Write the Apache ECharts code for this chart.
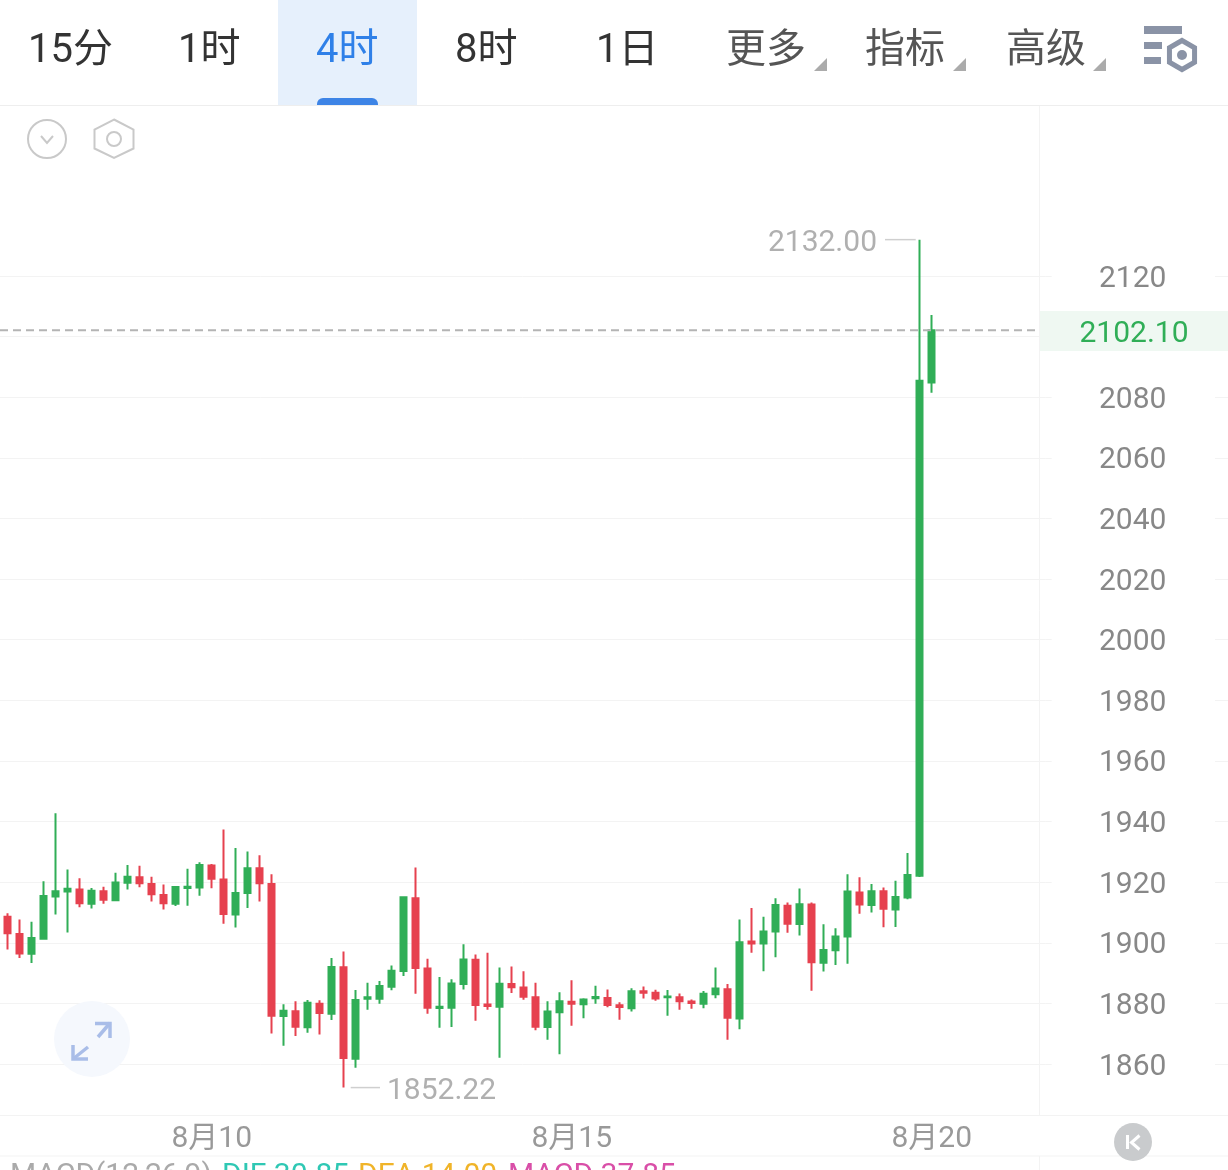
<!DOCTYPE html>
<html><head><meta charset="utf-8">
<style>html,body{margin:0;padding:0;background:#fff;overflow:hidden}#c{width:1228px;height:1170px}</style>
<script src="https://cdn.jsdelivr.net/npm/echarts@6/dist/echarts.min.js"></script>
</head><body><div id="c"></div>
<script>
const opens = [1908.6,1902.9,1896.4,1901.3,1915.3,1916.9,1917.6,1912.9,1917.0,1914.0,1919.8,1921.6,1919.4,1915.8,1912.9,1918.1,1918.2,1925.5,1920.9,1909.3,1916.4,1924.6,1919.4,1875.8,1877.4,1872.1,1879.9,1876.6,1891.9,1861.7,1881.5,1881.5,1885.5,1890.7,1914.7,1891.5,1878.5,1878.6,1886.4,1894.4,1879.6,1878.9,1886.4,1885.2,1882.0,1872.2,1877.1,1880.5,1879.7,1881.7,1881.8,1879.4,1878.4,1884.0,1883.5,1882.0,1882.0,1880.6,1879.9,1883.0,1884.7,1875.0,1900.4,1899.8,1903.7,1912.2,1906.2,1912.6,1893.4,1897.5,1902.1,1916.6,1912.5,1917.0,1911.0,1914.9,1922.1,2084.9];
const closes = [1903.1,1896.5,1901.6,1915.4,1917.0,1917.8,1913.0,1917.2,1914.2,1919.9,1921.8,1919.6,1916.0,1913.0,1918.4,1918.5,1925.7,1921.1,1909.5,1916.4,1924.6,1919.6,1875.9,1877.6,1872.3,1880.2,1876.8,1892.0,1862.0,1881.1,1882.0,1885.7,1890.8,1915.0,1891.7,1878.6,1878.9,1886.6,1894.5,1879.5,1879.1,1886.5,1885.3,1882.2,1872.3,1877.3,1880.7,1879.9,1881.3,1882.1,1879.5,1878.8,1884.0,1883.5,1881.6,1882.3,1880.7,1880.1,1883.2,1884.9,1875.3,1900.2,1899.8,1903.7,1912.5,1906.3,1912.7,1893.6,1897.6,1902.1,1916.9,1912.6,1917.0,1911.2,1915.1,1922.4,2085.4,2102.1];
const lows = [1897.8,1895.0,1893.3,1901.1,1909.3,1903.4,1911.7,1911.3,1912.9,1913.9,1917.6,1918.3,1913.6,1911.0,1912.1,1912.2,1915.5,1918.0,1906.3,1905.0,1911.5,1913.6,1870.1,1866.0,1869.2,1870.3,1869.7,1874.5,1852.22,1858.8,1877.9,1879.9,1884.3,1889.0,1883.2,1876.6,1872.0,1872.2,1884.6,1874.3,1877.9,1862.1,1883.4,1881.2,1871.1,1868.0,1863.2,1872.6,1875.1,1879.9,1878.7,1874.6,1877.3,1881.6,1880.9,1875.9,1877.9,1878.2,1878.4,1881.7,1868.0,1871.5,1896.7,1890.6,1895.2,1903.3,1902.4,1884.2,1890.5,1892.7,1893.1,1909.6,1910.0,1905.1,1905.2,1914.4,1921.7,2081.5];
const highs = [1909.7,1907.7,1906.9,1920.3,1942.7,1924.2,1921.3,1918.1,1918.5,1923.1,1925.7,1925.4,1921.8,1919.2,1918.7,1924.4,1926.6,1926.0,1937.4,1931.3,1930.1,1928.9,1922.6,1879.7,1880.7,1881.1,1881.0,1895.0,1897.1,1884.4,1886.8,1887.4,1892.5,1915.3,1924.8,1894.7,1888.7,1888.0,1899.5,1896.1,1896.7,1891.8,1892.2,1890.6,1886.8,1880.7,1883.7,1887.6,1881.7,1885.8,1884.6,1880.4,1885.0,1885.6,1884.5,1884.4,1883.3,1881.3,1884.1,1891.8,1886.4,1907.7,1911.5,1908.6,1914.7,1913.3,1917.9,1913.3,1906.1,1904.8,1922.6,1921.6,1919.4,1918.2,1920.5,1929.6,2132.0,2107.1];
const dateLabels = {18:'8月10',48:'8月15',78:'8月20'};
const priceTicks = [2120,2100,2080,2060,2040,2020,2000,1980,1960,1940,1920,1900,1880,1860];
const lastPrice = '2102.10', highLabel = '2132.00', lowLabel = '1852.22';
const tabs = ['15分','1时','4时','8时','1日','更多','指标','高级'];
const macdTexts = ['MACD(12,26,9)','DIF 30.85','DEA 14.00','MACD 37.85'];

const GREEN='#30ae57', RED='#e6414f', GRID='#f3f3f3';
const FONT='Roboto, "Noto Sans CJK SC", sans-serif';
const BANDS=88;
const categories=[]; for(let i=0;i<BANDS;i++) categories.push(dateLabels[i]||'');
const candles=[['-','-','-','-']].concat(opens.map((o,i)=>[o,closes[i],lows[i],highs[i]]));

const chart=echarts.init(document.getElementById('c'));
const yMin=priceTicks[priceTicks.length-1], yMax=priceTicks[0];
chart.setOption({
  animation:false, backgroundColor:'#ffffff',
  grid:[
    {left:-10.3,top:276,width:12*BANDS,height:788,outerBoundsMode:'none'},
    {left:1215,top:276,width:13,height:788,outerBoundsMode:'none'}
  ],
  xAxis:[
    {type:'category',gridIndex:0,data:categories,boundaryGap:true,
     axisLine:{show:false},axisTick:{show:false},splitLine:{show:false},
     axisLabel:{show:true,interval:0,margin:60,color:'#999999',fontSize:30,fontFamily:FONT,hideOverlap:false}},
    {type:'category',gridIndex:1,data:[''],axisLine:{show:false},axisTick:{show:false},axisLabel:{show:false}}
  ],
  yAxis:[
    {type:'value',gridIndex:0,position:'right',min:yMin,max:yMax,interval:20,scale:true,
     axisLine:{show:false},
     axisTick:{show:true,length:6,lineStyle:{color:GRID,width:1}},
     splitLine:{show:true,lineStyle:{color:GRID,width:1}},
     axisLabel:{show:true,margin:87,align:'center',verticalAlign:'top',lineHeight:6,color:'#888888',fontSize:30,fontFamily:FONT,
       formatter:v=>v===2100?'':String(v)}},
    {type:'value',gridIndex:1,min:yMin,max:yMax,interval:20,scale:true,
     axisLine:{show:false},axisTick:{show:false},axisLabel:{show:false},
     splitLine:{show:true,lineStyle:{color:GRID,width:1}}}
  ],
  series:[{
    type:'candlestick',xAxisIndex:0,yAxisIndex:0,data:candles,clip:false,barWidth:6,silent:true,
    itemStyle:{color:GREEN,color0:RED,borderColor:GREEN,borderColor0:RED,borderWidth:2}
  }]
});

const py=v=>chart.convertToPixel({yAxisIndex:0},v);
const px=i=>chart.convertToPixel({xAxisIndex:0},i);
const hexPts=(cx,cy,r)=>{const p=[];for(let i=0;i<6;i++){const a=Math.PI/3*i-Math.PI/2;p.push([cx+r*Math.cos(a),cy+r*Math.sin(a)]);}return p;};
const T=(text,x,y,size,color,align)=>({type:'text',x:x,y:y+3,z:20,silent:true,style:{text:text,fill:color,font:size+'px '+FONT,
  align:align||'left',verticalAlign:'middle',textAlign:align||'left',textVerticalAlign:'middle'}});
const L=(x1,y1,x2,y2,color,w,dash,z)=>({type:'line',z:z||15,silent:true,shape:{x1,y1,x2,y2},style:{stroke:color,lineWidth:w||1,lineDash:dash||null,fill:null}});
const R=(x,y,w,h,color,z)=>({type:'rect',z:z||10,silent:true,shape:{x,y,width:w,height:h},style:{fill:color}});
const PL=(pts,color,w,z)=>({type:'polyline',z:z||21,silent:true,shape:{points:pts},style:{stroke:color,lineWidth:w,fill:null,lineJoin:'miter'}});
const TRI=(x)=>({type:'polygon',z:20,silent:true,shape:{points:[[x+13,58],[x+13,71],[x,71]]},style:{fill:'#ababab'}});

const yLast=py(parseFloat(lastPrice)), yHigh=py(parseFloat(highLabel)), yLow=py(parseFloat(lowLabel));
const xHigh=px(77), xLow=px(29);
const els=[
  R(278,0,139,105,'#e6f0fc'),
  {type:'rect',z:11,silent:true,shape:{x:317,y:98,width:61,height:7,r:[6,6,0,0]},style:{fill:'#3d84e6'}},
  L(0,105.5,1228,105.5,'#eeeeee',1),
  L(1039.5,106,1039.5,1115,GRID,1),
  L(0,1115.5,1228,1115.5,GRID,1),
  L(0,1156,1228,1156,GRID,1),
  L(1039.5,1156,1039.5,1170,GRID,1),

  T(tabs[0],28,49,40,'#333333'),
  T(tabs[1],178,49,40,'#333333'),
  T(tabs[2],316,49,40,'#2f80e8'),
  T(tabs[3],455,49,40,'#333333'),
  T(tabs[4],596,49,40,'#333333'),
  T(tabs[5],726,49,40,'#555555'),
  T(tabs[6],865,49,40,'#555555'),
  T(tabs[7],1006,49,40,'#555555'),
  TRI(814),TRI(953),TRI(1093),

  R(1144,26,38,8,'#8a93a6',19),R(1144,42,18,7,'#8a93a6',19),R(1144,57,17,7,'#8a93a6',19),
  {type:'polygon',z:20,silent:true,shape:{points:hexPts(1182,55,14.5)},style:{stroke:'#8a93a6',lineWidth:5,fill:'#ffffff'}},
  {type:'circle',z:21,silent:true,shape:{cx:1182,cy:55,r:5},style:{fill:'#8a93a6'}},

  {type:'circle',z:20,silent:true,shape:{cx:47,cy:139,r:19},style:{stroke:'#c9c9c9',lineWidth:2,fill:'#fff'}},
  PL([[41,136],[47,143],[53,136]],'#c9c9c9',2),
  {type:'polygon',z:20,silent:true,shape:{points:[[114,119.5],[133.5,129.5],[133.5,148.5],[114,158],[94.5,148.5],[94.5,129.5]]},style:{stroke:'#c9c9c9',lineWidth:2,fill:'#fff'}},
  {type:'circle',z:21,silent:true,shape:{cx:114,cy:139,r:7},style:{stroke:'#c9c9c9',lineWidth:2,fill:'#fff'}},

  R(1040,311,188,40,'#eff8f2'),
  T(lastPrice,1134,331,30,GREEN,'center'),
  L(0,yLast,1035,yLast,'#b4b4b4',2,[8,5]),

  L(885,yHigh,xHigh-4,yHigh,'#cfcfcf',1.5),
  T(highLabel,877,yHigh+1,30,'#b0b0b0','right'),
  L(xLow+7,yLow,380,yLow,'#cfcfcf',1.5),
  T(lowLabel,387,yLow+1,30,'#b0b0b0','left'),

  {type:'circle',z:18,silent:true,shape:{cx:92,cy:1039,r:38},style:{fill:'#f5f8fd'}},
  L(98,1037,110,1023,'#a9bde8',3.5,null,21),PL([[95,1023.5],[110,1023.5],[110,1038]],'#a9bde8',3.5),
  L(88,1047,73,1059,'#a9bde8',3.5,null,21),PL([[73,1045],[73,1059],[88,1059]],'#a9bde8',3.5),

  {type:'circle',z:20,silent:true,shape:{cx:1133,cy:1142,r:19},style:{fill:'#c9cbcd'}},
  R(1126,1135,3,14,'#ffffff',22),
  PL([[1139.5,1135.5],[1131.5,1142.5],[1139.5,1149.5]],'#ffffff',3,22),

  T(macdTexts[0],10,1173,30,'#aaaaaa'),
  T(macdTexts[1],222,1173,30,'#2fc8b4'),
  T(macdTexts[2],358,1173,30,'#f0b429'),
  T(macdTexts[3],508,1173,30,'#d94fa8')
];
chart.setOption({graphic:[{elements:els}]});
</script></body></html>
